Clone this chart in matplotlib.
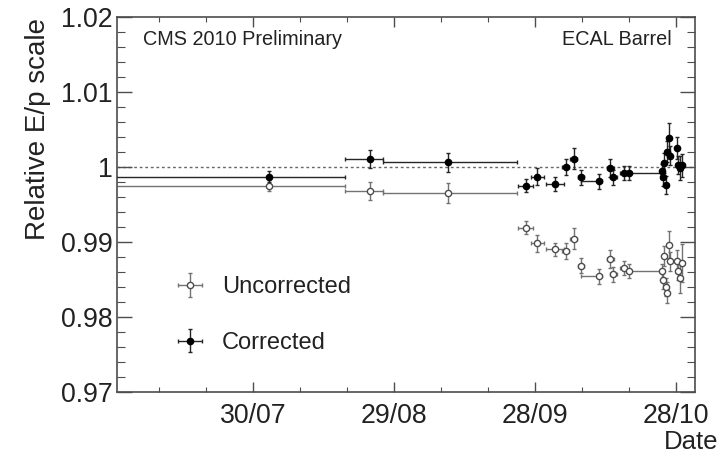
import numpy as np
import pandas as pd
import matplotlib
matplotlib.use("Agg")
import matplotlib.pyplot as plt
import matplotlib.dates as mdates
from matplotlib.ticker import FixedLocator, MultipleLocator, FixedFormatter

plt.rcParams["font.family"] = ["Liberation Sans", "DejaVu Sans"]

start = "2010-07-01"
# time of each point and its interval, in days since 1 July 2010
day = [32.3, 53.9, 70.4, 87.0, 89.4, 93.2, 95.5, 97.2, 98.8, 102.6, 105.0, 105.6, 107.9, 109.0,
       116.0, 116.2, 116.4, 116.9, 117.1, 117.4, 117.7, 119.1, 119.4, 119.8, 120.3]
day_lo = [-30.0, 48.6, 56.7, 85.3, 88.2, 91.2, 94.8, 96.5, 98.1, 98.8, 104.3, 105.0, 107.0, 108.4,
          115.7, 115.9, 116.1, 116.6, 116.8, 117.1, 117.4, 118.8, 119.1, 119.5, 120.0]
day_hi = [48.6, 56.7, 85.2, 88.6, 90.9, 95.2, 96.2, 97.9, 99.4, 103.3, 105.7, 106.3, 108.4, 115.7,
          116.3, 116.5, 116.7, 117.2, 117.4, 117.7, 118.0, 119.4, 119.7, 120.1, 120.6]

corrected = [0.9987, 1.0011, 1.0006, 0.9975, 0.9987, 0.9977, 1.0000, 1.0011, 0.9986, 0.9981,
             0.9998, 0.9986, 0.9992, 0.9992, 0.9994, 0.9987, 1.0005, 0.9976, 1.0020, 1.0039,
             1.0015, 1.0025, 1.0003, 0.9999, 1.0002]
corrected_err = [0.0007, 0.0012, 0.0013, 0.0009, 0.0011, 0.0009, 0.0011, 0.0014, 0.0010, 0.0010,
                 0.0012, 0.0010, 0.0009, 0.0009, 0.0010, 0.0012, 0.0013, 0.0012, 0.0014, 0.0020,
                 0.0013, 0.0015, 0.0012, 0.0016, 0.0015]
uncorrected = [0.9975, 0.9968, 0.9965, 0.9919, 0.9898, 0.9890, 0.9888, 0.9904, 0.9868, 0.9854,
               0.9877, 0.9857, 0.9865, 0.9861, 0.9861, 0.9849, 0.9881, 0.9840, 0.9832, 0.9896,
               0.9874, 0.9874, 0.9861, 0.9852, 0.9872]
uncorrected_err = [0.0007, 0.0012, 0.0013, 0.0009, 0.0011, 0.0009, 0.0011, 0.0014, 0.0010, 0.0010,
                   0.0012, 0.0010, 0.0009, 0.0009, 0.0010, 0.0012, 0.0013, 0.0012, 0.0014, 0.0018,
                   0.0013, 0.0015, 0.0012, 0.0020, 0.0025]

tick_days = [29, 59, 89, 119]
tick_labels = ["30/07", "29/08", "28/09", "28/10"]
ytick_vals = [0.97, 0.98, 0.99, 1.00, 1.01, 1.02]
ytick_labels = ["0.97", "0.98", "0.99", "1", "1.01", "1.02"]

t0 = mdates.date2num(pd.Timestamp(start))
day = np.array(day)
x = t0 + day
xerr = [day - np.array(day_lo), np.array(day_hi) - day]

fig = plt.figure(figsize=(7.22, 4.61), dpi=100)
ax = fig.add_axes([0.162, 0.150, 0.8006, 0.813])

ax.axhline(1.0, color="0.4", lw=1.0, ls=(0, (2, 2)), zorder=1)

ax.errorbar(x, uncorrected, xerr=xerr, yerr=uncorrected_err, fmt="o", ms=4.5,
            mfc="white", mec="0.3", mew=1.0, ecolor="0.45", elinewidth=1.0,
            capsize=1.5, label="Uncorrected", zorder=2)
ax.errorbar(x, corrected, xerr=xerr, yerr=corrected_err, fmt="o", ms=4.5,
            mfc="black", mec="black", ecolor="0.15", elinewidth=1.0,
            capsize=1.5, label="Corrected", zorder=3)

ax.set_xlim(t0, t0 + 123)
ax.set_ylim(0.97, 1.02)

ax.xaxis.set_major_locator(FixedLocator(t0 + np.array(tick_days)))
ax.xaxis.set_major_formatter(FixedFormatter(tick_labels))
ax.xaxis.set_minor_locator(FixedLocator(t0 + np.arange(9, 120, 10)))
ax.yaxis.set_major_locator(FixedLocator(ytick_vals))
ax.yaxis.set_major_formatter(FixedFormatter(ytick_labels))
ax.yaxis.set_minor_locator(MultipleLocator(0.002))

ax.tick_params(axis="both", which="both", direction="in", top=True, right=True,
               color="0.3", labelsize=19.2, labelcolor="#222")
ax.tick_params(axis="y", which="major", length=11, width=1.0, pad=3)
ax.tick_params(axis="y", which="minor", length=6, width=0.8)
ax.tick_params(axis="x", which="major", length=7, width=1.0, pad=8)
ax.tick_params(axis="x", which="minor", length=3.5, width=0.8)
for s in ax.spines.values():
    s.set_color("0.3")
    s.set_linewidth(1.2)

ax.text(0.045, 0.939, "CMS 2010 Preliminary", transform=ax.transAxes,
        fontsize=14.3, color="#222", ha="left", va="center")
ax.text(0.96, 0.939, "ECAL Barrel", transform=ax.transAxes,
        fontsize=14.3, color="#222", ha="right", va="center")

ax.legend(loc="upper left", bbox_to_anchor=(0.09, 0.309), frameon=False,
          fontsize=17, handlelength=1.8, handletextpad=0.45, labelspacing=1.43,
          borderpad=0, borderaxespad=0, labelcolor="#222")

fig.text(38 / 722, 1 - 18 / 461, "Relative E/p scale", rotation=90, ha="center",
         va="top", fontsize=20, color="#222")
fig.text(718 / 722, 1 - 442 / 461, "Date", ha="right", va="center",
         fontsize=18.5, color="#222")

fig.savefig("out.png", dpi=100)
